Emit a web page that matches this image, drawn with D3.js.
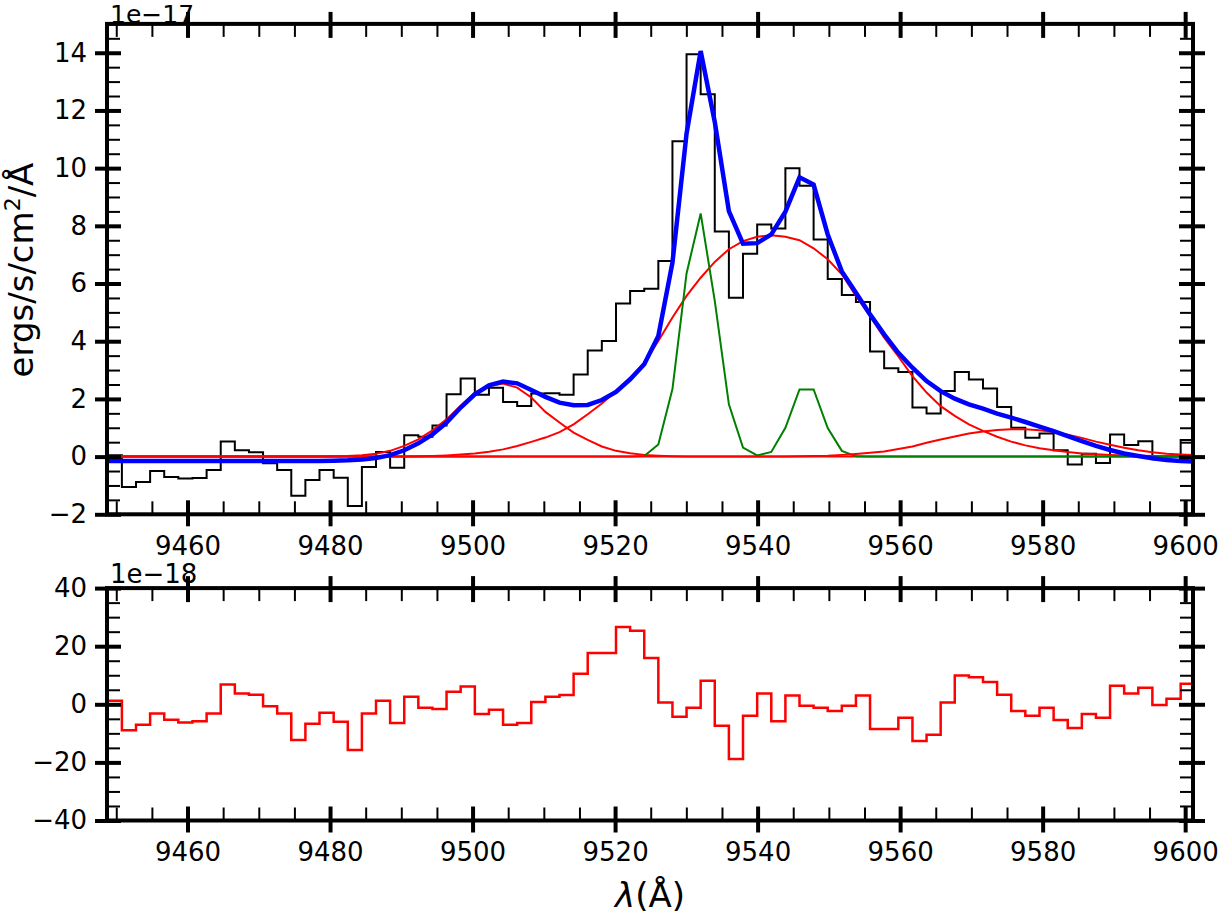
<!DOCTYPE html>
<html>
<head>
<meta charset="utf-8">
<script src="https://cdn.jsdelivr.net/npm/d3@7"></script>
<style>
  body { margin: 0; background: #fff; }
  svg { display: block; font-family: "DejaVu Sans", sans-serif; }
</style>
</head>
<body>
<div id="chart"></div>
<script>
// wavelength of each sample (Angstrom)
const wave = [9448.81, 9450.79, 9452.77, 9454.75, 9456.73, 9458.71, 9460.70, 9462.68, 9464.66, 9466.64,
  9468.62, 9470.60, 9472.58, 9474.56, 9476.54, 9478.52, 9480.51, 9482.49, 9484.47, 9486.45,
  9488.43, 9490.41, 9492.39, 9494.37, 9496.35, 9498.33, 9500.32, 9502.30, 9504.28, 9506.26,
  9508.24, 9510.22, 9512.20, 9514.18, 9516.16, 9518.14, 9520.13, 9522.11, 9524.09, 9526.07,
  9528.05, 9530.03, 9532.01, 9533.99, 9535.97, 9537.95, 9539.94, 9541.92, 9543.90, 9545.88,
  9547.86, 9549.84, 9551.82, 9553.80, 9555.78, 9557.76, 9559.75, 9561.73, 9563.71, 9565.69,
  9567.67, 9569.65, 9571.63, 9573.61, 9575.59, 9577.57, 9579.56, 9581.54, 9583.52, 9585.50,
  9587.48, 9589.46, 9591.44, 9593.42, 9595.40, 9597.38, 9599.37, 9601.35];

// observed flux, units of 1e-17
const flux = [0.95, 0.05, -1.05, -0.88, -0.50, -0.71, -0.76, -0.74, -0.46, 0.52,
  0.22, 0.15, -0.23, -0.46, -1.36, -0.81, -0.46, -0.73, -1.71, -0.36,
  0.16, -0.39, 0.74, 0.69, 1.08, 2.16, 2.71, 2.14, 2.39, 1.89,
  1.75, 2.19, 2.20, 2.14, 2.85, 3.68, 4.01, 5.31, 5.74, 5.82,
  6.78, 10.93, 13.95, 12.56, 7.80, 5.51, 7.03, 8.05, 7.91, 10.00,
  9.39, 7.53, 6.16, 5.60, 5.36, 3.64, 3.06, 2.93, 1.70, 1.49,
  2.27, 2.93, 2.67, 2.36, 1.72, 1.00, 0.65, 0.80, 0.22, -0.27,
  0.10, -0.22, 0.77, 0.40, 0.53, -0.09, 0.00, 0.58];

// total model (blue)
const model = [-0.15, -0.15, -0.15, -0.15, -0.15, -0.15, -0.15, -0.15, -0.15, -0.15,
  -0.15, -0.15, -0.15, -0.15, -0.15, -0.15, -0.14, -0.13, -0.10, -0.05,
  0.05, 0.22, 0.46, 0.77, 1.18, 1.70, 2.16, 2.47, 2.60, 2.54,
  2.31, 2.07, 1.87, 1.78, 1.79, 1.96, 2.24, 2.68, 3.20, 4.18,
  6.72, 11.20, 14.06, 11.60, 8.51, 7.38, 7.40, 7.70, 8.49, 9.68,
  9.43, 7.70, 6.42, 5.68, 4.93, 4.24, 3.60, 3.08, 2.62, 2.27,
  2.01, 1.81, 1.66, 1.49, 1.35, 1.20, 1.04, 0.88, 0.71, 0.54,
  0.37, 0.23, 0.11, 0.02, -0.06, -0.12, -0.15, -0.17];

// broad components (red)
const broad1 = [0, 0, 0, 0, 0, 0, 0, 0, 0, 0,
  0, 0, 0, 0, 0, 0, 0.01, 0.02, 0.05, 0.10,
  0.20, 0.37, 0.60, 0.91, 1.29, 1.76, 2.22, 2.45, 2.53, 2.39,
  2.05, 1.55, 1.18, 0.83, 0.58, 0.35, 0.20, 0.12, 0.06, 0.03,
  0.01, 0, 0, 0, 0, 0, 0, 0, 0, 0,
  0, 0, 0, 0, 0, 0, 0, 0, 0, 0,
  0, 0, 0, 0, 0, 0, 0, 0, 0, 0,
  0, 0, 0, 0, 0, 0, 0, 0];

const broad2 = [0, 0, 0, 0, 0, 0, 0, 0, 0, 0,
  0, 0, 0, 0, 0, 0, 0, 0, 0, 0,
  0, 0, 0.01, 0.02, 0.04, 0.07, 0.11, 0.17, 0.25, 0.37,
  0.51, 0.66, 0.85, 1.12, 1.47, 1.84, 2.27, 2.70, 3.26, 4.01,
  4.82, 5.57, 6.20, 6.75, 7.19, 7.47, 7.62, 7.67, 7.62, 7.50,
  7.22, 6.84, 6.32, 5.57, 4.87, 4.12, 3.47, 2.79, 2.22, 1.75,
  1.41, 1.12, 0.89, 0.69, 0.52, 0.39, 0.29, 0.22, 0.16, 0.11,
  0.08, 0.06, 0.04, 0.03, 0.02, 0.01, 0.01, 0];

const broad3 = [0, 0, 0, 0, 0, 0, 0, 0, 0, 0,
  0, 0, 0, 0, 0, 0, 0, 0, 0, 0,
  0, 0, 0, 0, 0, 0, 0, 0, 0, 0,
  0, 0, 0, 0, 0, 0, 0, 0, 0, 0,
  0, 0, 0, 0, 0, 0, 0, 0, 0, 0.01,
  0.02, 0.03, 0.06, 0.09, 0.13, 0.18, 0.26, 0.35, 0.48, 0.59,
  0.70, 0.80, 0.87, 0.92, 0.95, 0.95, 0.91, 0.85, 0.76, 0.65,
  0.52, 0.41, 0.31, 0.22, 0.15, 0.10, 0.07, 0.05];

// narrow components (green)
const narrow = [0, 0, 0, 0, 0, 0, 0, 0, 0, 0,
  0, 0, 0, 0, 0, 0, 0, 0, 0, 0,
  0, 0, 0, 0, 0, 0, 0, 0, 0, 0,
  0, 0, 0, 0, 0, 0, 0, 0, 0.02, 0.42,
  2.34, 6.35, 8.43, 5.40, 1.81, 0.31, 0.04, 0.16, 1.00, 2.33,
  2.33, 0.99, 0.20, 0.01, 0, 0, 0, 0, 0, 0,
  0, 0, 0, 0, 0, 0, 0, 0, 0, 0,
  0, 0, 0, 0, 0, 0, 0, 0];

// residuals, units of 1e-18
const resid = [11.0, 1.2, -8.9, -7.0, -3.2, -5.3, -6.3, -5.8, -3.2, 6.8,
  3.7, 3.3, -0.7, -3.2, -12.3, -6.7, -2.9, -6.0, -15.7, -3.2,
  1.2, -6.4, 2.6, -1.2, -1.6, 4.3, 6.1, -3.3, -1.9, -7.0,
  -6.4, 0.8, 2.6, 3.2, 10.5, 17.7, 17.7, 26.6, 25.3, 15.9,
  0.6, -4.3, -1.2, 8.1, -7.4, -18.8, -3.9, 3.7, -5.8, 3.0,
  -0.5, -1.2, -2.3, -0.5, 3.0, -8.5, -8.5, -4.6, -12.6, -10.5,
  0.6, 9.9, 9.3, 7.7, 3.3, -2.3, -3.9, -1.2, -5.4, -8.2,
  -3.3, -4.6, 6.4, 3.7, 5.7, -0.2, 1.9, 7.1];

const xTicks = [9460, 9480, 9500, 9520, 9540, 9560, 9580, 9600];
const yTicksTop = [-2, 0, 2, 4, 6, 8, 10, 12, 14];
const yTicksBottom = [-40, -20, 0, 20, 40];

const width = 1218;
const height = 914;
const left = 107;
const right = 1193;

const svg = d3.select("#chart")
    .append("svg")
    .attr("width", width)
    .attr("height", height);

const x = d3.scaleLinear().domain([9448.7, 9601.1]).range([left, right]);
const yTop = d3.scaleLinear().domain([-2, 15]).range([514.3, 23.9]);
const yBot = d3.scaleLinear().domain([-40, 40]).range([820.5, 588.1]);

const fmt = d => d < 0 ? "\u2212" + Math.abs(d) : String(d);

const xMinor = d3.range(9450, 9601, 5).filter(v => v % 20 !== 0);
const yMinorTop = d3.range(-4, 31).map(k => k / 2).filter(v => v % 2 !== 0);
const yMinorBot = d3.range(-40, 41, 5).filter(v => v % 20 !== 0);

// clip regions
const defs = svg.append("defs");
[["clipTop", yTop], ["clipBot", yBot]].forEach(([id, y]) => {
    const [y0, y1] = y.range();
    defs.append("clipPath").attr("id", id)
        .append("rect")
        .attr("x", left).attr("y", y1)
        .attr("width", right - left).attr("height", y0 - y1);
});

function series(values) {
    return values.map((v, i) => ({ x: wave[i], y: v }));
}

function drawLine(g, y, values, color, w, curve) {
    const line = d3.line()
        .x(d => x(d.x))
        .y(d => y(d.y))
        .curve(curve || d3.curveLinear);
    g.append("path")
        .datum(series(values))
        .attr("fill", "none")
        .attr("stroke", color)
        .attr("stroke-width", w)
        .attr("stroke-linejoin", "miter")
        .attr("d", line);
}

// 1. top panel: spectrum + fit
const topPanel = svg.append("g").attr("clip-path", "url(#clipTop)");
drawLine(topPanel, yTop, flux, "#000", 2, d3.curveStepBefore);
drawLine(topPanel, yTop, broad1, "#ff0000", 2);
drawLine(topPanel, yTop, broad2, "#ff0000", 2);
drawLine(topPanel, yTop, narrow, "#008000", 2);
drawLine(topPanel, yTop, broad3, "#ff0000", 2);
drawLine(topPanel, yTop, model, "#0000ff", 4.5);

// 2. bottom panel: residuals
const botPanel = svg.append("g").attr("clip-path", "url(#clipBot)");
drawLine(botPanel, yBot, resid, "#ff0000", 2.5, d3.curveStepBefore);

// 3. axes: major ticks cross the spine, minor ticks point in
function tidy(sel, w) {
    sel.select(".domain").remove();
    sel.selectAll(".tick line").attr("stroke", "#000").attr("stroke-width", w);
    sel.selectAll("text").attr("fill", "#000").attr("font-size", "26px")
        .attr("font-family", "DejaVu Sans, sans-serif");
}

function drawAxes(y, yMajor, yMinor) {
    const [y0, y1] = y.range();
    const g = svg.append("g");

    g.append("g").attr("transform", `translate(0,${y0})`)
        .call(d3.axisBottom(x).tickValues(xTicks).tickSize(12).tickSizeOuter(0).tickPadding(10).tickFormat(fmt))
        .call(s => tidy(s, 4));
    g.append("g").attr("transform", `translate(0,${y0})`)
        .call(d3.axisBottom(x).tickValues(xTicks).tickSize(-14).tickSizeOuter(0).tickFormat(""))
        .call(s => tidy(s, 4));
    g.append("g").attr("transform", `translate(0,${y0})`)
        .call(d3.axisBottom(x).tickValues(xMinor).tickSize(-13).tickSizeOuter(0).tickFormat(""))
        .call(s => tidy(s, 2));

    g.append("g").attr("transform", `translate(0,${y1})`)
        .call(d3.axisTop(x).tickValues(xTicks).tickSize(12).tickSizeOuter(0).tickFormat(""))
        .call(s => tidy(s, 4));
    g.append("g").attr("transform", `translate(0,${y1})`)
        .call(d3.axisTop(x).tickValues(xTicks).tickSize(-14).tickSizeOuter(0).tickFormat(""))
        .call(s => tidy(s, 4));
    g.append("g").attr("transform", `translate(0,${y1})`)
        .call(d3.axisTop(x).tickValues(xMinor).tickSize(-13).tickSizeOuter(0).tickFormat(""))
        .call(s => tidy(s, 2));

    g.append("g").attr("transform", `translate(${left},0)`)
        .call(d3.axisLeft(y).tickValues(yMajor).tickSize(12).tickSizeOuter(0).tickPadding(8).tickFormat(fmt))
        .call(s => tidy(s, 4));
    g.append("g").attr("transform", `translate(${left},0)`)
        .call(d3.axisLeft(y).tickValues(yMajor).tickSize(-14).tickSizeOuter(0).tickFormat(""))
        .call(s => tidy(s, 4));
    g.append("g").attr("transform", `translate(${left},0)`)
        .call(d3.axisLeft(y).tickValues(yMinor).tickSize(-13).tickSizeOuter(0).tickFormat(""))
        .call(s => tidy(s, 2));

    g.append("g").attr("transform", `translate(${right},0)`)
        .call(d3.axisRight(y).tickValues(yMajor).tickSize(12).tickSizeOuter(0).tickFormat(""))
        .call(s => tidy(s, 4));
    g.append("g").attr("transform", `translate(${right},0)`)
        .call(d3.axisRight(y).tickValues(yMajor).tickSize(-14).tickSizeOuter(0).tickFormat(""))
        .call(s => tidy(s, 4));
    g.append("g").attr("transform", `translate(${right},0)`)
        .call(d3.axisRight(y).tickValues(yMinor).tickSize(-13).tickSizeOuter(0).tickFormat(""))
        .call(s => tidy(s, 2));

    g.append("rect")
        .attr("x", left).attr("y", y1)
        .attr("width", right - left).attr("height", y0 - y1)
        .attr("fill", "none")
        .attr("stroke", "#000")
        .attr("stroke-width", 4);
}

drawAxes(yTop, yTicksTop, yMinorTop);
drawAxes(yBot, yTicksBottom, yMinorBot);

// 4. offset texts and axis labels
svg.append("text")
    .attr("x", 110).attr("y", 22.5)
    .attr("font-size", "25px")
    .text("1e\u221217");

svg.append("text")
    .attr("x", 110).attr("y", 582.7)
    .attr("font-size", "26px")
    .text("1e\u221218");

const ylab = svg.append("text")
    .attr("transform", "translate(33,270) rotate(-90)")
    .attr("text-anchor", "middle")
    .attr("font-size", "34px");
ylab.append("tspan").text("ergs/s/cm");
ylab.append("tspan").attr("font-size", "22px").attr("dy", "-13").text("2");
ylab.append("tspan").attr("dy", "13").text("/Å");

const xlab = svg.append("text")
    .attr("x", 650).attr("y", 907)
    .attr("text-anchor", "middle")
    .attr("font-size", "34px");
xlab.append("tspan").attr("font-style", "italic").text("λ");
xlab.append("tspan").text("(Å)");
</script>
</body>
</html>
